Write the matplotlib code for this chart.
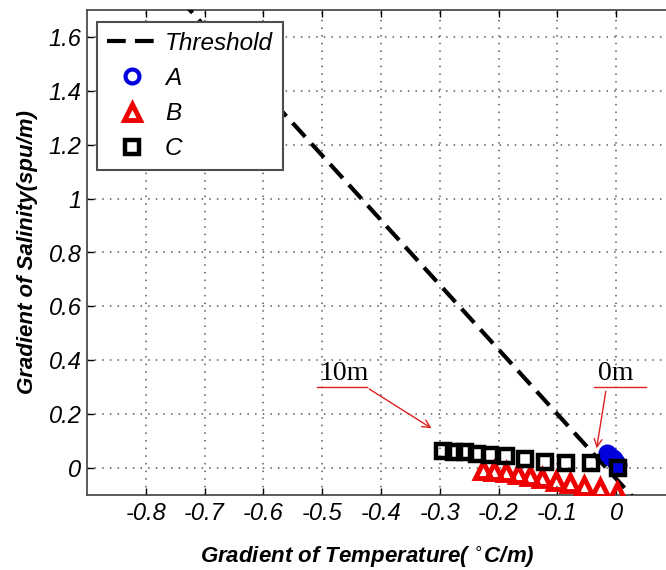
import numpy as np
import matplotlib
matplotlib.use("Agg")
import matplotlib.pyplot as plt

# data
thr_x = [-0.75, 0.035]
thr_y = [1.76, -0.124]

a_x = [-0.016, -0.014, -0.012, -0.010, -0.008, -0.006, -0.004, -0.002, 0.0, 0.002, 0.003]
a_y = [0.055, 0.052, 0.049, 0.045, 0.041, 0.037, 0.032, 0.027, 0.021, 0.015, 0.010]

b_x = [-0.226, -0.208, -0.187, -0.167, -0.146, -0.126, -0.102, -0.079, -0.055, -0.028, 0.001]
b_y = [-0.007, -0.011, -0.015, -0.022, -0.030, -0.037, -0.048, -0.056, -0.067, -0.074, -0.089]

c_x = [-0.294, -0.276, -0.257, -0.237, -0.214, -0.187, -0.155, -0.121, -0.085, -0.043, 0.003]
c_y = [0.063, 0.061, 0.058, 0.054, 0.048, 0.044, 0.033, 0.022, 0.019, 0.019, 0.0]

xticks = [-0.8, -0.7, -0.6, -0.5, -0.4, -0.3, -0.2, -0.1, 0]
xtick_labels = ["-0.8", "-0.7", "-0.6", "-0.5", "-0.4", "-0.3", "-0.2", "-0.1", "0"]
yticks = [0, 0.2, 0.4, 0.6, 0.8, 1.0, 1.2, 1.4, 1.6]
ytick_labels = ["0", "0.2", "0.4", "0.6", "0.8", "1", "1.2", "1.4", "1.6"]

plt.rcParams["font.family"] = ["Liberation Sans", "DejaVu Sans"]

W, H = 666, 570
fig = plt.figure(figsize=(W / 100, H / 100), dpi=100)
left, right, top, bottom = 87, 675, 10, 495
ax = fig.add_axes([left / W, 1 - bottom / H, (right - left) / W, (bottom - top) / H])

ax.plot(thr_x, thr_y, color="black", lw=3, dashes=(4.5, 2.2), label="Threshold", zorder=3)
ax.plot(a_x, a_y, "o", mfc="none", mec="#0000dd", mew=3, ms=10, label="A", zorder=4)
ax.plot(b_x, b_y, "^", mfc="none", mec="#ee0000", mew=3.5, ms=11, label="B", zorder=4)
ax.plot(c_x, c_y, "s", mfc="none", mec="black", mew=3.2, ms=10, label="C", zorder=5)

ax.set_xlim(-0.9, 0.1)
ax.set_ylim(-0.1, 1.7)
ax.set_xticks(xticks)
ax.set_xticklabels(xtick_labels, fontsize=17, style="italic")
ax.set_yticks(yticks)
ax.set_yticklabels(ytick_labels, fontsize=17, style="italic")
ax.tick_params(direction="in", length=5, width=1, top=True, right=True, pad=5)
ax.tick_params(axis="y", pad=4)
ax.grid(True, color="0.35", linestyle=(0, (1, 4)), lw=1.1)
for s in ax.spines.values():
    s.set_linewidth(1.3)
    s.set_color("0.3")

ax.set_xlabel("Gradient of Temperature( $^{\\circ}$C/m)", fontsize=16, fontweight="bold", style="italic")
ax.set_ylabel("Gradient of Salinity(spu/m)", fontsize=16, fontweight="bold", style="italic")
ax.xaxis.set_label_coords((367 - left) / (right - left), -0.102)
ax.yaxis.set_label_coords(-0.083, 0.5)

leg = ax.legend(loc="upper left", bbox_to_anchor=((97 - left) / (right - left), 1 - 12 / (bottom - top)),
                borderaxespad=0, prop={"size": 17.5, "style": "italic"}, fancybox=False, framealpha=1,
                handlelength=2.1, handletextpad=0.3, labelspacing=0.5, borderpad=0.4)
leg.get_frame().set_edgecolor("0.3")
leg.get_frame().set_linewidth(1.5)
leg.set_zorder(10)

# depth annotations
red = "#dd2222"
ax.plot([-0.508, -0.424], [0.299, 0.299], color=red, lw=1, zorder=6)
ax.text(-0.505, 0.305, "10m", fontsize=20, family="Liberation Serif", va="bottom", ha="left")
ax.annotate("", xy=(-0.31, 0.142), xytext=(-0.424, 0.299),
            arrowprops=dict(arrowstyle="->", color=red, lw=1, mutation_scale=14))
ax.plot([-0.037, 0.05], [0.299, 0.299], color=red, lw=1, zorder=6)
ax.text(-0.031, 0.305, "0m", fontsize=20, family="Liberation Serif", va="bottom", ha="left")
ax.annotate("", xy=(-0.034, 0.063), xytext=(-0.017, 0.295),
            arrowprops=dict(arrowstyle="->", color=red, lw=1, mutation_scale=14))

fig.savefig("out.png", dpi=100)
